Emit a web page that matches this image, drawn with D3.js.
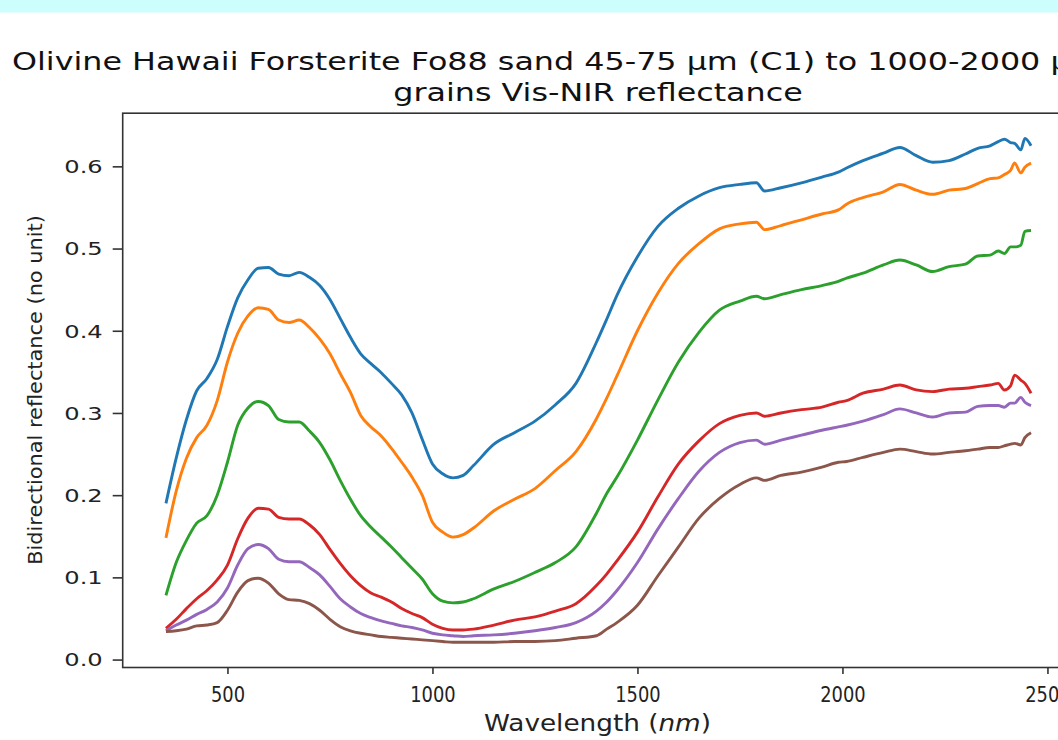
<!DOCTYPE html>
<html><head><meta charset="utf-8">
<script src="https://cdn.jsdelivr.net/npm/d3@7"></script>
<style>body{margin:0;background:#fff;overflow:hidden} svg{display:block}</style>
</head><body>
<svg id="chart" width="1058" height="740"></svg>
<script>
// ---------- data ----------
const wavelengths = [350,375,400,425,450,475,500,525,550,575,600,625,650,675,700,725,750,775,800,825,850,875,900,925,950,975,1000,1025,1050,1075,1100,1150,1200,1250,1300,1350,1400,1425,1450,1500,1550,1600,1650,1700,1750,1790,1810,1850,1900,1950,1990,2010,2050,2100,2140,2180,2220,2260,2300,2330,2360,2380,2395,2410,2420,2435,2445,2460];
const c1 = [0.190,0.245,0.292,0.327,0.342,0.365,0.405,0.440,0.462,0.476,0.477,0.469,0.467,0.471,0.465,0.455,0.438,0.415,0.392,0.372,0.360,0.349,0.336,0.322,0.300,0.268,0.238,0.226,0.221,0.224,0.236,0.262,0.276,0.290,0.310,0.336,0.386,0.414,0.443,0.490,0.527,0.549,0.564,0.574,0.578,0.580,0.570,0.574,0.580,0.587,0.593,0.598,0.607,0.616,0.623,0.613,0.605,0.607,0.615,0.622,0.625,0.630,0.633,0.629,0.628,0.620,0.634,0.625];
const c2 = [0.148,0.205,0.245,0.270,0.285,0.315,0.362,0.397,0.418,0.428,0.426,0.413,0.410,0.413,0.404,0.390,0.372,0.348,0.325,0.297,0.283,0.272,0.257,0.240,0.222,0.200,0.167,0.155,0.149,0.152,0.160,0.181,0.195,0.208,0.230,0.253,0.293,0.318,0.345,0.400,0.446,0.482,0.506,0.524,0.530,0.532,0.523,0.528,0.535,0.542,0.547,0.554,0.562,0.569,0.578,0.571,0.566,0.571,0.573,0.579,0.585,0.586,0.590,0.595,0.604,0.592,0.599,0.604];
const c3 = [0.078,0.118,0.145,0.166,0.175,0.200,0.240,0.285,0.306,0.314,0.309,0.292,0.289,0.289,0.278,0.264,0.243,0.218,0.195,0.175,0.161,0.149,0.137,0.124,0.111,0.098,0.080,0.071,0.069,0.070,0.074,0.086,0.095,0.106,0.118,0.137,0.178,0.202,0.222,0.267,0.316,0.362,0.398,0.425,0.436,0.442,0.439,0.444,0.450,0.455,0.460,0.464,0.470,0.480,0.486,0.480,0.472,0.478,0.481,0.491,0.492,0.497,0.494,0.502,0.502,0.504,0.521,0.522];
const c4 = [0.038,0.049,0.062,0.074,0.084,0.097,0.115,0.147,0.172,0.184,0.183,0.173,0.171,0.171,0.164,0.152,0.134,0.117,0.102,0.090,0.081,0.076,0.070,0.062,0.056,0.051,0.043,0.038,0.036,0.036,0.037,0.042,0.048,0.052,0.059,0.068,0.090,0.104,0.120,0.155,0.198,0.238,0.266,0.287,0.297,0.300,0.296,0.300,0.304,0.307,0.313,0.315,0.324,0.329,0.334,0.328,0.326,0.329,0.330,0.332,0.334,0.336,0.328,0.333,0.346,0.340,0.336,0.324];
const c5 = [0.035,0.042,0.048,0.055,0.061,0.070,0.087,0.115,0.135,0.140,0.135,0.122,0.119,0.119,0.112,0.103,0.089,0.074,0.064,0.056,0.051,0.047,0.044,0.041,0.039,0.036,0.032,0.030,0.029,0.028,0.029,0.030,0.032,0.035,0.039,0.045,0.059,0.070,0.084,0.118,0.159,0.196,0.229,0.252,0.264,0.267,0.262,0.267,0.273,0.279,0.283,0.285,0.290,0.298,0.305,0.300,0.295,0.300,0.301,0.308,0.309,0.309,0.307,0.312,0.312,0.319,0.313,0.309];
const c6 = [0.034,0.035,0.037,0.041,0.042,0.045,0.060,0.082,0.096,0.099,0.093,0.080,0.073,0.072,0.068,0.060,0.049,0.040,0.035,0.032,0.030,0.028,0.027,0.026,0.025,0.024,0.023,0.022,0.021,0.021,0.021,0.021,0.022,0.022,0.023,0.026,0.029,0.037,0.045,0.066,0.102,0.137,0.172,0.196,0.213,0.221,0.218,0.224,0.228,0.234,0.240,0.241,0.246,0.252,0.256,0.253,0.250,0.252,0.254,0.256,0.258,0.258,0.260,0.262,0.263,0.261,0.270,0.276];
const seriesNames = ["C1","C2","C3","C4","C5","C6"];
const seriesValues = [c1,c2,c3,c4,c5,c6];
const seriesColors = ["#1f77b4","#ff7f0e","#2ca02c","#d62728","#9467bd","#8c564b"];
const xTickValues = [500,1000,1500,2000,2500];
const yTickValues = [0.0,0.1,0.2,0.3,0.4,0.5,0.6];
const titleLine1 = "Olivine Hawaii Forsterite Fo88 sand 45-75 \u00b5m (C1) to 1000-2000 \u00b5m (C6)";
const titleLine2 = "grains Vis-NIR reflectance";
const yLabel = "Bidirectional reflectance (no unit)";

// ---------- layout ----------
const svg = d3.select("#chart");
const L = 122.7, T = 113.2, B = 667.5, R = 1074.3;
const HS = 1.38; // horizontal stretch of the picture

svg.append("rect").attr("x",0).attr("y",0).attr("width",1058).attr("height",12.5).attr("fill","#ccfefe");

const allV = seriesValues.flat();
const xMin = d3.min(wavelengths), xMax = d3.max(wavelengths);
const yMin = d3.min(allV), yMax = d3.max(allV);
const x = d3.scaleLinear().domain([xMin-0.05*(xMax-xMin), xMax+0.05*(xMax-xMin)]).range([L,R]);
const y = d3.scaleLinear().domain([yMin-0.05*(yMax-yMin), yMax+0.05*(yMax-yMin)]).range([B,T]);

// lines
const line = d3.line().x(d=>x(d[0])).y(d=>y(d[1])).curve(d3.curveMonotoneX);
const gLines = svg.append("g");
seriesValues.forEach((vals,i)=>{
  gLines.append("path")
    .datum(wavelengths.map((w,j)=>[w,vals[j]]))
    .attr("fill","none").attr("stroke",seriesColors[i])
    .attr("stroke-width",2.9).attr("stroke-linejoin","round").attr("stroke-linecap","butt")
    .attr("d",line);
});

// axes
const ax = svg.append("g").attr("transform",`translate(0,${B})`)
  .call(d3.axisBottom(x).tickValues(xTickValues).tickSize(6.5).tickFormat(d3.format("d")));
const ay = svg.append("g").attr("transform",`translate(${L},0)`)
  .call(d3.axisLeft(y).tickValues(yTickValues).tickSize(10).tickFormat(d3.format(".1f")));
[ax,ay].forEach(a=>{
  a.select(".domain").remove();
  a.selectAll(".tick line").attr("stroke","#333").attr("stroke-width",1.6);
});
// frame (spines)
svg.append("rect").attr("x",L).attr("y",T).attr("width",R-L).attr("height",B-T)
  .attr("fill","none").attr("stroke","#333").attr("stroke-width",1.6);

ay.selectAll(".tick text")
  .attr("font-family","DejaVu Sans").attr("font-size",17.5).attr("fill","#222")
  .attr("x",0).attr("dy","0.36em")
  .attr("transform",`translate(-20,0) scale(${HS},1)`);
ax.selectAll(".tick text")
  .attr("font-family","DejaVu Sans").attr("font-size",21.5).attr("fill","#222")
  .attr("y",0).attr("dy",0)
  .attr("transform",`translate(0,34) scale(0.83,1)`);

function fitText(sel, cx, cy, target, rot){
  const w = sel.node().getBBox().width;
  sel.attr("transform",`translate(${cx},${cy}) ${rot?`rotate(${rot})`:""} scale(${target/w},1)`);
}

// title
const t1 = svg.append("text").attr("font-family","DejaVu Sans").attr("font-size",24.5)
  .attr("fill","#111").attr("text-anchor","start").text(titleLine1);
const idx = titleLine1.indexOf("2000")+4;
const subW = t1.node().getSubStringLength(0, idx);
const tsx = (1041-12)/subW;
t1.attr("transform",`translate(12,70) scale(${tsx},1)`);
svg.append("text").attr("font-family","DejaVu Sans").attr("font-size",24.5)
  .attr("fill","#111").attr("text-anchor","middle").text(titleLine2)
  .attr("transform",`translate(598,101) scale(${tsx},1)`);

// axis labels
const xl = svg.append("text").attr("font-family","DejaVu Sans").attr("font-size",23)
  .attr("fill","#222").attr("text-anchor","middle");
xl.append("tspan").text("Wavelength (");
xl.append("tspan").attr("font-style","italic").text("nm");
xl.append("tspan").text(")");
fitText(xl, 597.5, 731, 227);

const yl = svg.append("text").attr("font-family","DejaVu Sans").attr("font-size",19.5)
  .attr("fill","#222").attr("text-anchor","middle").text(yLabel);
fitText(yl, 42, 390, 350, -90);
</script>
</body></html>
